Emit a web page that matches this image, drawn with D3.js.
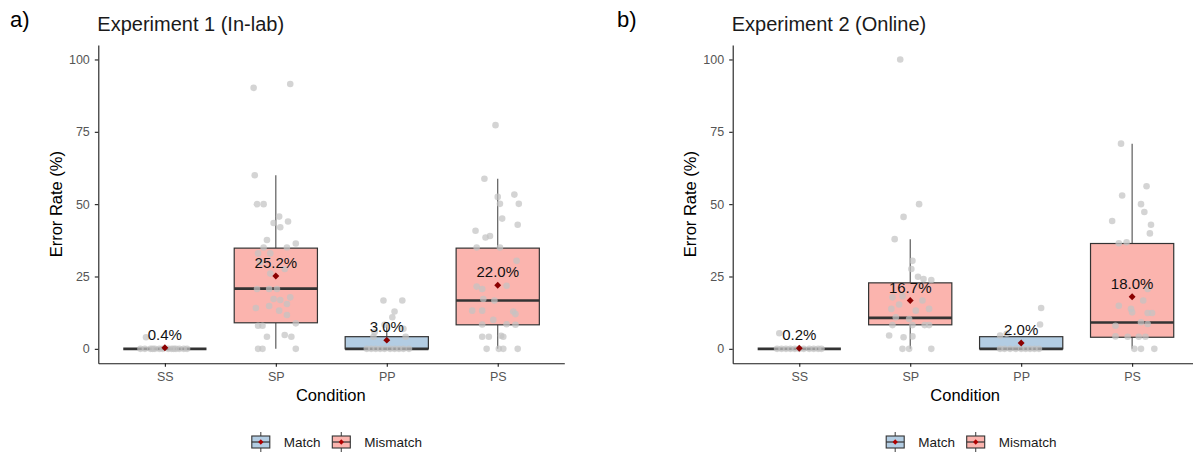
<!DOCTYPE html>
<html lang="en">
<head>
<meta charset="utf-8">
<title>Error rate by condition</title>
<script src="https://d3js.org/d3.v7.min.js"></script>
<style>
body { margin:0; background:#fff; }
svg { display:block; font-family:"Liberation Sans", Arial, sans-serif; }
.axis path, .axis line { stroke:#1a1a1a; stroke-width:1.1px; }
.axis text { fill:#555; font-size:12.5px; }
</style>
</head>
<body>
<script>

// categories
var conditions = ["SS", "SP", "PP", "PS"];
var condType = ["Match", "Mismatch", "Match", "Mismatch"];
var yTicks = [0, 25, 50, 75, 100];
var legendLabels = ["Match", "Mismatch"];

// Experiment 1 box stats
var exp1Q1 = [0, 9.0, 0, 8.3];
var exp1Median = [0, 20.8, 0, 16.7];
var exp1Q3 = [0, 34.8, 4.2, 34.8];
var exp1Low = [0, 0, 0, 0];
var exp1High = [0, 60, 8.3, 58.8];
var exp1Mean = [0.4, 25.2, 3.0, 22.0];

// Experiment 2 box stats
var exp2Q1 = [0, 8.3, 0, 4.0];
var exp2Median = [0, 10.7, 0, 9.1];
var exp2Q3 = [0, 22.8, 4.2, 36.4];
var exp2Low = [0, 0, 0, 0];
var exp2High = [0, 37.9, 4.2, 70.9];
var exp2Mean = [0.2, 16.7, 2.0, 18.0];

// jittered participant points: [condition, jitter (fraction of category step), value]
var exp1Points = [
  ["SS", -0.17, 4.0], ["SS", -0.22, 0], ["SS", -0.18, 0], ["SS", -0.13, 0], ["SS", -0.09, 0],
  ["SS", -0.05, 0], ["SS", -0.02, 0], ["SS", 0.03, 0], ["SS", 0.06, 0], ["SS", 0.1, 0],
  ["SS", 0.13, 0], ["SS", 0.17, 0], ["SS", 0.2, 0], ["SS", -0.11, 0], ["SS", 0.08, 0],
  ["SP", -0.20, 90.2], ["SP", 0.13, 91.5], ["SP", -0.19, 60], ["SP", -0.17, 50], ["SP", -0.11, 50],
  ["SP", 0.03, 45.7], ["SP", 0.11, 44], ["SP", -0.02, 43.5], ["SP", 0.04, 42], ["SP", -0.08, 37.6],
  ["SP", 0.18, 36.4], ["SP", -0.11, 35], ["SP", 0.10, 35], ["SP", -0.16, 33], ["SP", -0.05, 33],
  ["SP", -0.14, 29.9], ["SP", 0.08, 27.6], ["SP", -0.05, 26], ["SP", -0.17, 20.7], ["SP", -0.06, 20.7],
  ["SP", 0.01, 20.7], ["SP", -0.02, 17.2], ["SP", 0.13, 17.8], ["SP", 0.04, 16.9], ["SP", -0.18, 14.1],
  ["SP", -0.06, 14.8], ["SP", 0.10, 15.5], ["SP", 0.03, 13.2], ["SP", 0.10, 11.7], ["SP", -0.16, 8],
  ["SP", -0.12, 8], ["SP", 0.18, 8.8], ["SP", -0.08, 4.2], ["SP", 0.08, 4.8], ["SP", 0.14, 4.2],
  ["SP", -0.16, 0], ["SP", -0.12, 0], ["SP", 0.18, 0],
  ["PP", -0.03, 16.7], ["PP", 0.14, 16.7], ["PP", 0.07, 12.9], ["PP", 0.05, 10.9], ["PP", -0.02, 8.3],
  ["PP", 0.15, 6.9], ["PP", -0.11, 5.7], ["PP", 0.17, 4.2], ["PP", -0.12, 4.2],
  ["PP", -0.18, 0], ["PP", -0.14, 0], ["PP", -0.1, 0], ["PP", -0.06, 0], ["PP", -0.02, 0],
  ["PP", 0.03, 0], ["PP", 0.07, 0], ["PP", 0.11, 0], ["PP", 0.15, 0], ["PP", 0.2, 0],
  ["PS", -0.02, 77.3], ["PS", -0.12, 58.8], ["PS", 0.00, 52.5], ["PS", 0.15, 53.3], ["PS", 0.02, 50.1],
  ["PS", 0.19, 50.1], ["PS", 0.04, 45], ["PS", 0.18, 42.9], ["PS", -0.20, 40.8], ["PS", -0.07, 39],
  ["PS", -0.11, 38.5], ["PS", -0.19, 35], ["PS", 0.02, 35], ["PS", 0.17, 30.4], ["PS", -0.19, 21.5],
  ["PS", -0.14, 20.7], ["PS", 0.08, 21.8], ["PS", -0.13, 17.2], ["PS", -0.03, 16.7], ["PS", 0.14, 12.9],
  ["PS", -0.23, 13.2], ["PS", -0.14, 13.2], ["PS", 0.16, 12], ["PS", -0.04, 10], ["PS", -0.14, 8.4],
  ["PS", 0.08, 8.5], ["PS", 0.16, 8.3], ["PS", -0.14, 4.2], ["PS", -0.08, 4.2], ["PS", 0.03, 4.5],
  ["PS", 0.05, 4.2], ["PS", -0.10, 0], ["PS", 0.01, 0], ["PS", 0.05, 0], ["PS", 0.18, 0]
];

var exp2Points = [
  ["SS", -0.18, 5.4], ["SS", -0.2, 0], ["SS", -0.16, 0], ["SS", -0.12, 0], ["SS", -0.08, 0],
  ["SS", -0.04, 0], ["SS", 0.0, 0], ["SS", 0.04, 0], ["SS", 0.09, 0], ["SS", 0.13, 0],
  ["SS", 0.17, 0], ["SS", 0.2, 0],
  ["SP", -0.09, 100], ["SP", 0.08, 50], ["SP", -0.06, 45.6], ["SP", -0.14, 37.9], ["SP", 0.02, 30.4],
  ["SP", 0.01, 27.6], ["SP", 0.07, 24.9], ["SP", 0.12, 24.1], ["SP", 0.19, 23.8], ["SP", -0.16, 17.8],
  ["SP", -0.07, 18.2], ["SP", 0.11, 16.7], ["SP", -0.17, 13.8], ["SP", -0.10, 15.3], ["SP", 0.05, 13.2],
  ["SP", 0.17, 13.8], ["SP", -0.13, 10.9], ["SP", -0.01, 10.3], ["SP", -0.16, 8.2], ["SP", 0.02, 8.2],
  ["SP", 0.13, 8.2], ["SP", 0.17, 8.2], ["SP", -0.19, 4.6], ["SP", -0.06, 4.0], ["SP", 0.02, 4.3],
  ["SP", -0.07, 0], ["SP", -0.01, 0], ["SP", 0.19, 0],
  ["PP", 0.18, 14.1], ["PP", 0.17, 8.4], ["PP", -0.19, 4.6], ["PP", -0.13, 5.2],
  ["PP", -0.19, 0], ["PP", -0.15, 0], ["PP", -0.1, 0], ["PP", -0.05, 0], ["PP", 0.0, 0],
  ["PP", 0.04, 0], ["PP", 0.08, 0], ["PP", 0.12, 0], ["PP", 0.16, 0],
  ["PS", -0.10, 70.9], ["PS", 0.13, 56.2], ["PS", -0.09, 53], ["PS", 0.08, 50], ["PS", 0.11, 47.3],
  ["PS", -0.18, 44.2], ["PS", 0.17, 42.9], ["PS", 0.16, 39.9], ["PS", -0.12, 36.5], ["PS", -0.05, 36.8],
  ["PS", 0.14, 20.7], ["PS", 0.10, 16.7], ["PS", -0.12, 14.9], ["PS", -0.01, 13.8], ["PS", 0.00, 12.6],
  ["PS", 0.14, 12.4], ["PS", 0.18, 12.4], ["PS", -0.15, 8], ["PS", 0.08, 9.2], ["PS", 0.14, 8.6],
  ["PS", -0.15, 4.3], ["PS", -0.04, 4.2], ["PS", 0.06, 4.2], ["PS", 0.12, 4.2],
  ["PS", 0.02, 0], ["PS", 0.08, 0], ["PS", 0.20, 0]
];

var W = 1193, H = 454;
var plotTop = 45, plotBottom = 363.3, plotW = 466;
var fillColor = {Match: "#b3cde3", Mismatch: "#fbb4ae"};

var svg = d3.select("body").append("svg")
    .attr("width", W)
    .attr("height", H);

function drawPanel(p) {
  var left = p.left;
  var g = svg.append("g");

  var x = d3.scalePoint().domain(conditions).range([left, left + plotW]).padding(0.6);
  var y = d3.scaleLinear().domain([-5, 105]).range([plotBottom, plotTop]);
  var step = x.step();
  var bw = step * 0.75;

  // axes
  g.append("g").attr("class", "axis")
    .attr("transform", "translate(" + left + ",0)")
    .call(d3.axisLeft(y).tickValues(yTicks).tickSize(3.5).tickSizeOuter(0).tickPadding(5));

  g.append("g").attr("class", "axis")
    .attr("transform", "translate(0," + plotBottom + ")")
    .call(d3.axisBottom(x).tickSize(3.5).tickSizeOuter(0).tickPadding(5));

  var rows = conditions.map(function(c, i) {
    return {c: c, type: condType[i], q1: p.q1[i], med: p.med[i], q3: p.q3[i],
            lo: p.lo[i], hi: p.hi[i], mean: p.mean[i]};
  });

  var box = g.selectAll(".box").data(rows).enter().append("g").attr("class", "box");

  box.append("line")
    .attr("x1", function(d) { return x(d.c); }).attr("x2", function(d) { return x(d.c); })
    .attr("y1", function(d) { return y(d.q3); }).attr("y2", function(d) { return y(d.hi); })
    .attr("stroke", "#4d4d4d").attr("stroke-width", 1.1);
  box.append("line")
    .attr("x1", function(d) { return x(d.c); }).attr("x2", function(d) { return x(d.c); })
    .attr("y1", function(d) { return y(d.q1); }).attr("y2", function(d) { return y(d.lo); })
    .attr("stroke", "#4d4d4d").attr("stroke-width", 1.1);
  box.append("rect")
    .attr("x", function(d) { return x(d.c) - bw / 2; })
    .attr("y", function(d) { return y(d.q3); })
    .attr("width", bw)
    .attr("height", function(d) { return y(d.q1) - y(d.q3); })
    .attr("fill", function(d) { return fillColor[d.type]; })
    .attr("stroke", "#333").attr("stroke-width", 1.2);
  box.append("line")
    .attr("x1", function(d) { return x(d.c) - bw / 2; })
    .attr("x2", function(d) { return x(d.c) + bw / 2; })
    .attr("y1", function(d) { return y(d.med); }).attr("y2", function(d) { return y(d.med); })
    .attr("stroke", "#333").attr("stroke-width", 2.6);

  // jittered points
  g.selectAll(".pt").data(p.points).enter().append("circle")
    .attr("class", "pt")
    .attr("cx", function(d) { return x(d[0]) + d[1] * step; })
    .attr("cy", function(d) { return y(d[2]); })
    .attr("r", 3.3)
    .attr("fill", "#c4c4c4")
    .attr("opacity", 0.72);

  // means
  g.selectAll(".mean").data(rows).enter().append("path")
    .attr("class", "mean")
    .attr("d", d3.symbol(d3.symbolSquare, 24))
    .attr("transform", function(d) { return "translate(" + x(d.c) + "," + y(d.mean) + ") rotate(45)"; })
    .attr("fill", "#8b0000");

  g.selectAll(".lbl").data(rows).enter().append("text")
    .attr("x", function(d) { return x(d.c); })
    .attr("y", function(d) { return y(d.mean) - 8; })
    .attr("text-anchor", "middle")
    .style("font-size", "15px")
    .attr("fill", "#111")
    .text(function(d) { return d.mean.toFixed(1) + "%"; });

  // titles
  g.append("text").attr("x", left - 1).attr("y", 31)
    .style("font-size", "20px").attr("fill", "#1a1a1a").text(p.title);
  g.append("text").attr("x", p.tagX).attr("y", 27)
    .style("font-size", "22px").attr("fill", "#000").text(p.tag);

  g.append("text")
    .attr("transform", "translate(" + (left - 36.5) + "," + ((plotTop + plotBottom) / 2) + ") rotate(-90)")
    .attr("text-anchor", "middle").style("font-size", "16.5px").attr("fill", "#000")
    .text("Error Rate (%)");
  g.append("text")
    .attr("x", left + plotW / 2 - 0.5).attr("y", 400.5)
    .attr("text-anchor", "middle").style("font-size", "16.5px").attr("fill", "#000")
    .text("Condition");

  // legend
  var lg = g.append("g").attr("transform", "translate(" + (left + 152.5) + ",442)");
  var keyX = [0, 80.5];
  legendLabels.forEach(function(lab, i) {
    var k = lg.append("g").attr("transform", "translate(" + keyX[i] + ",0)");
    k.append("line").attr("x1", 10).attr("x2", 10).attr("y1", -10).attr("y2", 10)
      .attr("stroke", "#4d4d4d").attr("stroke-width", 1.1);
    k.append("rect").attr("x", 1).attr("y", -6).attr("width", 18).attr("height", 12)
      .attr("fill", fillColor[lab]).attr("stroke", "#333").attr("stroke-width", 1.1);
    k.append("line").attr("x1", 1).attr("x2", 19).attr("y1", 0).attr("y2", 0)
      .attr("stroke", "#333").attr("stroke-width", 1.2);
    k.append("path").attr("d", d3.symbol(d3.symbolSquare, 14))
      .attr("transform", "translate(10,0) rotate(45)").attr("fill", "#b00000");
    k.append("text").attr("x", 33).attr("y", 4.8)
      .style("font-size", "13.5px").attr("fill", "#1a1a1a").text(lab);
  });
}

drawPanel({left: 98.3, tagX: 10, tag: "a)", title: "Experiment 1 (In-lab)",
  q1: exp1Q1, med: exp1Median, q3: exp1Q3, lo: exp1Low, hi: exp1High, mean: exp1Mean,
  points: exp1Points});

drawPanel({left: 732.7, tagX: 617, tag: "b)", title: "Experiment 2 (Online)",
  q1: exp2Q1, med: exp2Median, q3: exp2Q3, lo: exp2Low, hi: exp2High, mean: exp2Mean,
  points: exp2Points});

</script>
</body>
</html>
